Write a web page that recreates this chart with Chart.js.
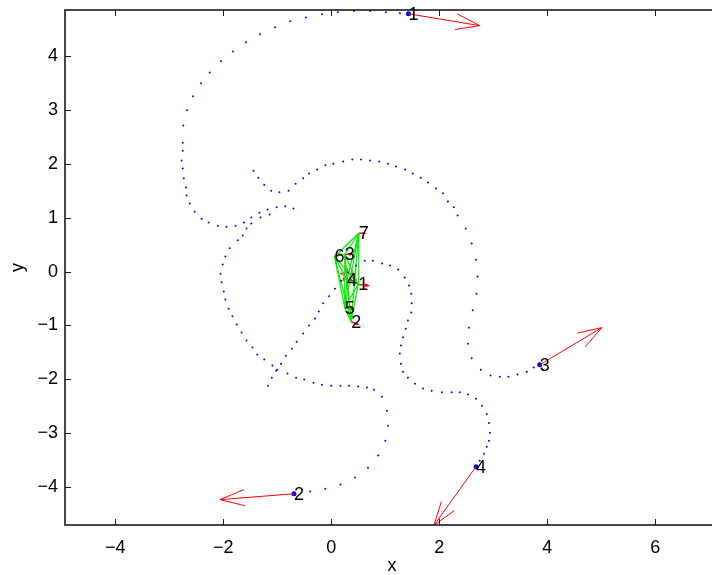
<!DOCTYPE html>
<html>
<head>
<meta charset="utf-8">
<script src="https://cdn.jsdelivr.net/npm/chart.js@4.4.0/dist/chart.umd.min.js"></script>
<style>
  html, body { margin: 0; padding: 0; background: #fff; overflow: hidden; }
  #wrap { width: 728px; height: 575px; }
</style>
</head>
<body>
<div id="wrap"><canvas id="chart" width="728" height="575"></canvas></div>
<script>
// axis setup
const xTicks = [-4, -2, 0, 2, 4, 6];
const yTicks = [-4, -3, -2, -1, 0, 1, 2, 3, 4];
const xLimits = [-4.93, 7.18];
const yLimits = [-4.70, 4.85];

// trails of the four intruders
const trail1 = [[-0.70,1.17],[-0.85,1.21],[-1.01,1.19],[-1.18,1.15],[-1.33,1.09],[-1.48,1.00],[-1.62,0.91],
  [-1.77,0.85],[-1.94,0.83],[-2.10,0.85],[-2.27,0.91],[-2.40,0.98],[-2.53,1.11],[-2.62,1.26],[-2.68,1.41],
  [-2.69,1.56],[-2.73,1.73],[-2.75,1.91],[-2.77,2.06],[-2.75,2.24],[-2.75,2.39],[-2.74,2.71],[-2.67,2.99],
  [-2.56,3.25],[-2.41,3.49],[-2.25,3.69],[-2.04,3.90],[-1.82,4.08],[-1.58,4.25],[-1.32,4.40],[-1.04,4.53],
  [-0.76,4.64],[-0.47,4.71],[-0.17,4.77],[0.12,4.81],[0.42,4.83],[0.72,4.83],[1.01,4.81],[1.27,4.79]];

const trail2 = [[-1.14,1.06],[-1.31,1.00],[-1.48,0.89],[-1.57,0.80],[-1.64,0.67],[-1.73,0.58],[-1.88,0.43],
  [-1.96,0.28],[-2.01,0.13],[-2.05,-0.04],[-2.03,-0.20],[-1.99,-0.37],[-1.96,-0.52],[-1.90,-0.69],
  [-1.83,-0.83],[-1.75,-0.98],[-1.66,-1.13],[-1.57,-1.28],[-1.46,-1.41],[-1.37,-1.54],[-1.24,-1.63],
  [-1.09,-1.74],[-1.00,-1.82],[-0.81,-1.89],[-0.65,-1.97],[-0.50,-2.00],[-0.33,-2.06],[-0.17,-2.10],
  [0.00,-2.12],[0.17,-2.12],[0.33,-2.12],[0.50,-2.13],[0.66,-2.15],[0.79,-2.19],[0.94,-2.32],[1.03,-2.58],
  [1.05,-2.86],[1.00,-3.14],[0.87,-3.41],[0.68,-3.64],[0.44,-3.82],[0.17,-3.95],[-0.11,-4.03],[-0.39,-4.08]];

const trail3 = [[-1.44,1.87],[-1.35,1.74],[-1.24,1.61],[-1.11,1.50],[-0.96,1.47],[-0.79,1.50],[-0.66,1.63],
  [-0.52,1.73],[-0.41,1.82],[-0.26,1.89],[-0.11,1.97],[0.04,2.00],[0.22,2.04],[0.39,2.08],[0.55,2.08],
  [0.72,2.06],[0.89,2.04],[1.05,2.00],[1.20,1.95],[1.37,1.89],[1.51,1.82],[1.66,1.74],[1.79,1.65],
  [1.94,1.54],[2.07,1.45],[2.16,1.30],[2.27,1.19],[2.34,1.04],[2.49,0.80],[2.60,0.52],[2.68,0.22],
  [2.71,-0.09],[2.69,-0.41],[2.62,-0.72],[2.55,-1.04],[2.53,-1.34],[2.60,-1.61],[2.77,-1.82],[2.95,-1.93],
  [3.12,-1.95],[3.28,-1.95],[3.45,-1.91],[3.62,-1.86],[3.75,-1.78]];

const trail4 = [[-1.17,-2.12],[-1.10,-1.97],[-1.02,-1.84],[-0.93,-1.71],[-0.84,-1.56],[-0.73,-1.43],
  [-0.64,-1.30],[-0.52,-1.15],[-0.41,-1.00],[-0.30,-0.87],[-0.23,-0.74],[-0.15,-0.59],[-0.04,-0.46],
  [0.07,-0.32],[0.18,-0.17],[0.31,-0.02],[0.46,0.11],[0.62,0.20],[0.77,0.20],[0.94,0.15],[1.09,0.11],
  [1.24,0.04],[1.36,-0.11],[1.44,-0.26],[1.48,-0.41],[1.49,-0.59],[1.48,-0.76],[1.42,-0.91],[1.38,-1.06],
  [1.33,-1.22],[1.29,-1.37],[1.27,-1.52],[1.29,-1.71],[1.33,-1.86],[1.42,-1.97],[1.55,-2.08],[1.70,-2.17],
  [1.86,-2.21],[2.05,-2.24],[2.23,-2.24],[2.38,-2.24],[2.53,-2.28],[2.68,-2.36],[2.79,-2.49],[2.88,-2.64],
  [2.92,-2.81],[2.94,-2.99],[2.92,-3.14],[2.88,-3.25],[2.83,-3.38],[2.75,-3.51]];

// intruders: position, velocity, label
const agentPos = [[1.43,4.78],[-0.69,-4.12],[3.86,-1.73],[2.68,-3.62]];
const agentVel = [[1.32,-0.22],[-1.37,-0.11],[1.15,0.69],[-0.78,-1.09]];
const agentLabels = ['1', '2', '3', '4'];

// defenders in the middle
const swarmPos = [[0.50,-0.24],[0.37,-0.93],[0.25,0.32],[0.29,-0.15],[0.25,-0.67],[0.06,0.28],[0.51,0.71]];
const swarmVel = [[0.18,-0.02],[0.12,-0.05],[0.12,0.00],[0.10,-0.02],[0.15,-0.03],[0.10,0.04],[0.11,0.00]];
const swarmLabels = ['1', '2', '3', '4', '5', '6', '7'];

const targetPos = [0.29, -0.06];

const FONT = '"Liberation Sans", Arial, Helvetica, sans-serif';
Chart.defaults.font.family = FONT;
Chart.defaults.font.size = 18;
Chart.defaults.color = '#000';

const pt = p => ({ x: p[0], y: p[1] });
const fmt = v => (v < 0 ? '\u2212' + Math.abs(v) : String(v));

// quiver-style arrow: shaft + open head
function arrow(start, vel) {
  const a = 0.33, b = 0.33;
  const u = vel[0], v = vel[1];
  const tip = [start[0] + u, start[1] + v];
  const b1 = [tip[0] - a * (u + b * v), tip[1] - a * (v - b * u)];
  const b2 = [tip[0] - a * (u - b * v), tip[1] - a * (v + b * u)];
  return [[start, tip], [b1, tip, b2]];
}

const lineDs = (pts, color, w) => ({
  data: pts.map(pt),
  showLine: true,
  borderColor: color,
  borderWidth: w || 1,
  pointRadius: 0,
  fill: false,
});

const datasets = [];

[trail1, trail2, trail3, trail4].forEach(t => {
  datasets.push({
    data: t.map(pt),
    showLine: false,
    pointRadius: 1,
    pointBorderWidth: 0,
    pointBackgroundColor: '#0000ff',
  });
});

// communication graph among defenders
for (let i = 0; i < swarmPos.length; i++) {
  for (let j = i + 1; j < swarmPos.length; j++) {
    datasets.push(lineDs([swarmPos[i], swarmPos[j]], '#00ee00', 1.2));
  }
}

agentPos.forEach((p, i) => {
  arrow(p, agentVel[i]).forEach(seg => datasets.push(lineDs(seg, '#ff0000')));
});
swarmPos.forEach((p, i) => {
  arrow(p, swarmVel[i]).forEach(seg => datasets.push(lineDs(seg, '#ff0000', 1.5)));
});

datasets.push({
  data: agentPos.map(pt),
  showLine: false,
  pointRadius: 2.5,
  pointBorderWidth: 0,
  pointBackgroundColor: '#0000dd',
});

// red pentagram for the target
const star = document.createElement('canvas');
star.width = 16; star.height = 16;
(() => {
  const c = star.getContext('2d');
  c.strokeStyle = '#ff0000';
  c.lineWidth = 1;
  c.beginPath();
  for (let k = 0; k < 10; k++) {
    const r = k % 2 === 0 ? 7 : 2.8;
    const ang = -Math.PI / 2 + k * Math.PI / 5;
    const px = 8 + r * Math.cos(ang), py = 8.5 + r * Math.sin(ang);
    if (k === 0) c.moveTo(px, py); else c.lineTo(px, py);
  }
  c.closePath();
  c.stroke();
})();

datasets.push({
  data: [pt(targetPos)],
  showLine: false,
  pointStyle: star,
  pointRadius: 8,
});

const decor = {
  id: 'decor',
  afterDatasetsDraw(chart) {
    const { ctx, chartArea: a, scales: { x, y } } = chart;
    ctx.save();
    // axes box
    ctx.strokeStyle = '#1a1a1a';
    ctx.lineWidth = 1.6;
    ctx.strokeRect(a.left, a.top, a.right - a.left, a.bottom - a.top);
    // inward ticks
    ctx.lineWidth = 1;
    ctx.beginPath();
    xTicks.forEach(v => {
      const px = Math.round(x.getPixelForValue(v)) + 0.5;
      ctx.moveTo(px, a.bottom); ctx.lineTo(px, a.bottom - 6);
      ctx.moveTo(px, a.top); ctx.lineTo(px, a.top + 6);
    });
    yTicks.forEach(v => {
      const py = Math.round(y.getPixelForValue(v)) + 0.5;
      ctx.moveTo(a.left, py); ctx.lineTo(a.left + 6, py);
    });
    ctx.stroke();

    ctx.fillStyle = '#000';
    ctx.font = '18px ' + FONT;
    ctx.textAlign = 'center';
    ctx.textBaseline = 'middle';
    // axis titles
    ctx.fillText('x', (a.left + a.right) / 2, 566);
    ctx.save();
    ctx.translate(18, (a.top + a.bottom) / 2);
    ctx.rotate(-Math.PI / 2);
    ctx.fillText('y', 0, 0);
    ctx.restore();

    // labels next to each agent
    ctx.textAlign = 'left';
    const put = (p, s) => ctx.fillText(s, x.getPixelForValue(p[0]), y.getPixelForValue(p[1]) + 1);
    agentPos.forEach((p, i) => put(p, agentLabels[i]));
    swarmPos.forEach((p, i) => put(p, swarmLabels[i]));
    ctx.restore();
  },
};

new Chart(document.getElementById('chart'), {
  type: 'scatter',
  data: { datasets },
  options: {
    responsive: false,
    animation: false,
    events: [],
    layout: { padding: { top: 10, right: 9, bottom: 0, left: 0 } },
    plugins: { legend: { display: false }, tooltip: { enabled: false } },
    scales: {
      x: {
        type: 'linear',
        min: xLimits[0],
        max: xLimits[1],
        afterBuildTicks: s => { s.ticks = xTicks.map(v => ({ value: v })); },
        afterFit: s => { s.height = 50; },
        grid: { display: false, drawTicks: false },
        border: { display: false },
        ticks: { padding: 12, maxRotation: 0, callback: fmt },
      },
      y: {
        type: 'linear',
        min: yLimits[0],
        max: yLimits[1],
        afterBuildTicks: s => { s.ticks = yTicks.map(v => ({ value: v })); },
        afterFit: s => { s.width = 65; s.paddingTop = 0; s.paddingBottom = 0; },
        grid: { display: false, drawTicks: false },
        border: { display: false },
        ticks: { padding: 7, callback: fmt },
      },
    },
  },
  plugins: [decor],
});
</script>
</body>
</html>
